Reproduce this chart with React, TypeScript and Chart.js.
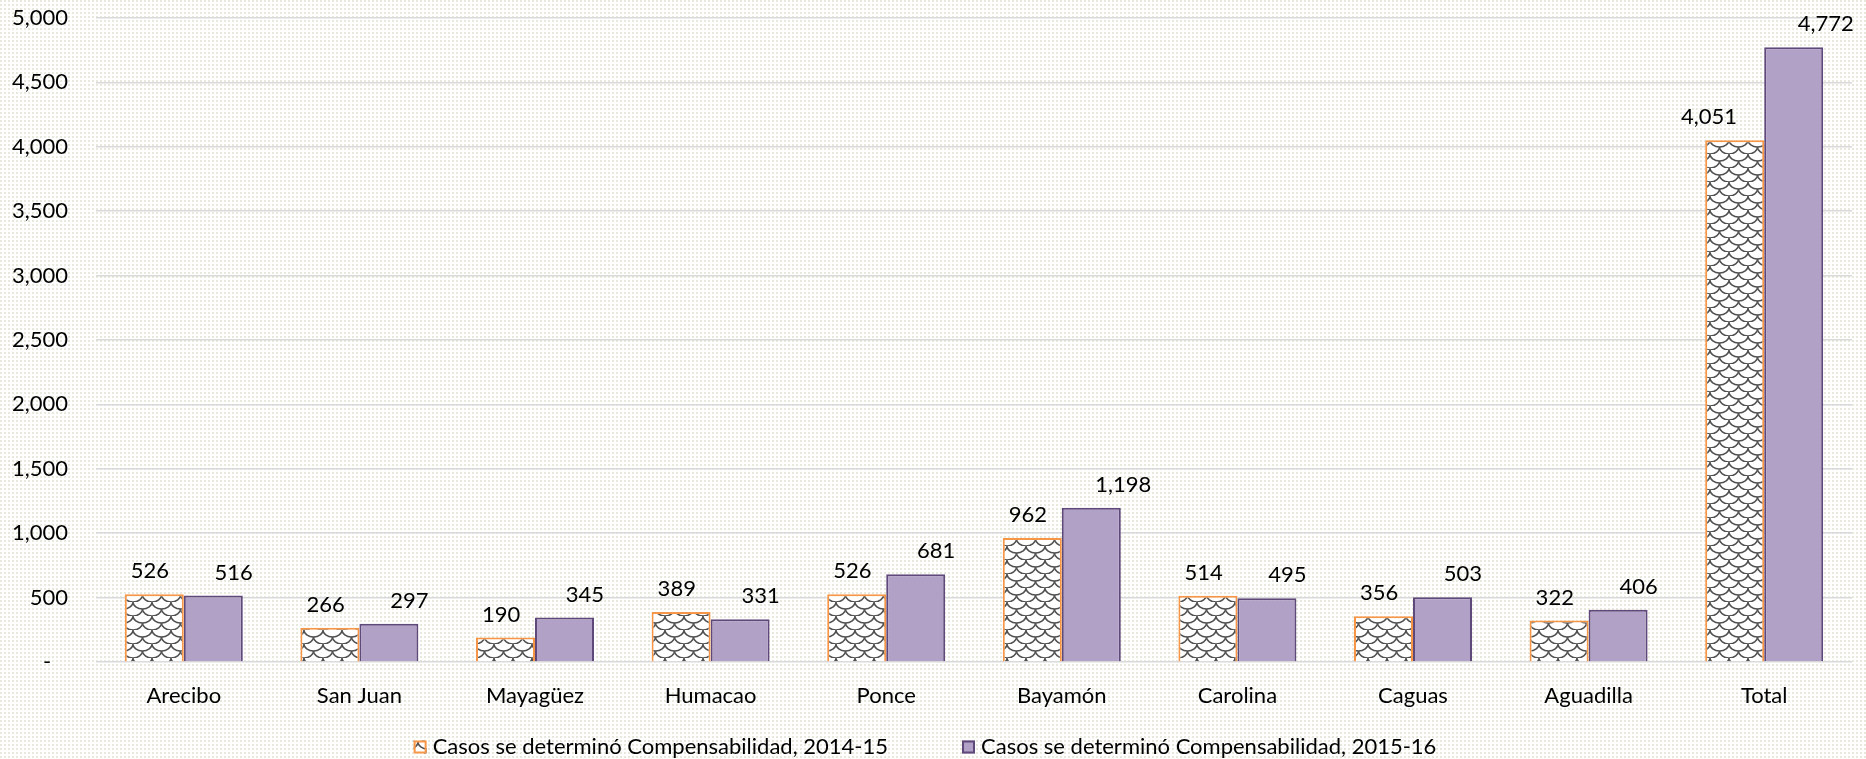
import React, { useEffect, useRef } from "react";
import { Chart, registerables } from "chart.js";

Chart.register(...registerables);

const categories = ["Arecibo", "San Juan", "Mayagüez", "Humacao", "Ponce", "Bayamón", "Carolina", "Caguas", "Aguadilla", "Total"];
const casos2014 = [526, 266, 190, 389, 526, 962, 514, 356, 322, 4051];
const casos2015 = [516, 297, 345, 331, 681, 1198, 495, 503, 406, 4772];
const seriesLabels = ["Casos se determinó Compensabilidad, 2014-15", "Casos se determinó Compensabilidad, 2015-16"];
const yTicks = [0, 500, 1000, 1500, 2000, 2500, 3000, 3500, 4000, 4500, 5000];

const FONT = "Lato, 'Noto Sans', sans-serif";
const FONT_SIZE = 22;
const ORANGE = "#f79646";
const PURPLE = "#b2a1c7";
const PURPLE_DARK = "#5f497a";

function makeDotPattern(ctx: CanvasRenderingContext2D) {
  const c = document.createElement("canvas");
  c.width = 4;
  c.height = 4;
  const g = c.getContext("2d")!;
  g.fillStyle = "#ffffff";
  g.fillRect(0, 0, 4, 4);
  g.fillStyle = "#e9e8dc";
  g.fillRect(0, 0, 2, 2);
  return ctx.createPattern(c, "repeat")!;
}

function makeScalePattern(ctx: CanvasRenderingContext2D) {
  const w = 19, h = 14;
  const c = document.createElement("canvas");
  c.width = w;
  c.height = h;
  const g = c.getContext("2d")!;
  g.fillStyle = "#ffffff";
  g.fillRect(0, 0, w, h);
  g.strokeStyle = "#505050";
  g.lineWidth = 1.5;
  const r = w / 2;
  g.beginPath();
  g.ellipse(w / 2, 0, r, h / 2, 0, 0, Math.PI);
  g.stroke();
  g.beginPath();
  g.ellipse(0, h / 2, r, h / 2, 0, 0, Math.PI);
  g.stroke();
  g.beginPath();
  g.ellipse(w, h / 2, r, h / 2, 0, 0, Math.PI);
  g.stroke();
  return ctx.createPattern(c, "repeat")!;
}

export default function App() {
  const ref = useRef<HTMLCanvasElement | null>(null);

  useEffect(() => {
    document.body.style.margin = "0";
    const canvas = ref.current!;
    const ctx = canvas.getContext("2d")!;
    const dots = makeDotPattern(ctx);
    const scales = makeScalePattern(ctx);

    const bgPlugin = {
      id: "bgPattern",
      beforeDraw(chart: any) {
        const c = chart.ctx;
        c.save();
        c.fillStyle = dots;
        c.fillRect(0, 0, chart.width, chart.height);
        c.restore();
      },
    };

    const labelPlugin = {
      id: "valueLabels",
      afterDatasetsDraw(chart: any) {
        const c = chart.ctx;
        c.save();
        c.font = `${FONT_SIZE}px ${FONT}`;
        c.fillStyle = "#000000";
        c.textAlign = "center";
        c.textBaseline = "middle";
        chart.data.datasets.forEach((ds: any, di: number) => {
          const meta = chart.getDatasetMeta(di);
          meta.data.forEach((el: any, i: number) => {
            const v = ds.data[i];
            const t = v.toLocaleString("en-US");
            const w = c.measureText(t).width;
            const extra = Math.max(0, w - 33);
            const dx = di === 0 ? 2 - 1.2 * extra : 17 + 0.65 * extra;
            c.fillText(t, el.x + dx, el.y - 23);
          });
        });
        c.restore();
      },
    };

    const legendPlugin = {
      id: "customLegend",
      afterDraw(chart: any) {
        const c = chart.ctx;
        c.save();
        c.font = `${FONT_SIZE}px ${FONT}`;
        c.textBaseline = "middle";
        c.textAlign = "left";
        const box = 13, gapBox = 6, gapItem = 74;
        const widths = seriesLabels.map((l) => c.measureText(l).width);
        const total = widths.reduce((a, b) => a + b, 0) + 2 * (box + gapBox) + gapItem;
        const cx = chart.width / 2 - 8;
        let x = cx - total / 2;
        const y = chart.height - 12;
        chart.data.datasets.forEach((ds: any, i: number) => {
          c.fillStyle = ds.backgroundColor;
          c.fillRect(x, y - box / 2, box, box);
          c.lineWidth = 2;
          c.strokeStyle = ds.borderColor;
          c.strokeRect(x + 1, y - box / 2 + 1, box - 2, box - 2);
          c.fillStyle = "#000000";
          c.fillText(seriesLabels[i], x + box + gapBox, y);
          x += box + gapBox + widths[i] + gapItem;
        });
        c.restore();
      },
    };

    const chart = new Chart(ctx, {
      type: "bar",
      data: {
        labels: categories,
        datasets: [
          {
            label: seriesLabels[0],
            data: casos2014,
            backgroundColor: scales as any,
            borderColor: ORANGE,
            borderWidth: 2,
            categoryPercentage: 0.672,
            barPercentage: 1.0,
          },
          {
            label: seriesLabels[1],
            data: casos2015,
            backgroundColor: PURPLE,
            borderColor: PURPLE_DARK,
            borderWidth: 2,
            categoryPercentage: 0.672,
            barPercentage: 1.0,
          },
        ],
      },
      options: {
        responsive: false,
        animation: false,
        layout: { padding: { left: 0, right: 14, top: 18, bottom: 0 } },
        plugins: {
          legend: { display: false },
          tooltip: { enabled: false },
        },
        scales: {
          x: {
            grid: { display: false },
            border: { display: false },
            ticks: {
              color: "#000000",
              font: { family: FONT, size: FONT_SIZE },
              padding: 13,
              maxRotation: 0,
              autoSkip: false,
            },
            afterFit(scale: any) {
              scale.height = 97;
            },
          },
          y: {
            min: 0,
            max: 5000,
            afterBuildTicks(scale: any) {
              scale.ticks = yTicks.map((v) => ({ value: v }));
            },
            grid: { color: "#d9d9d9", lineWidth: 1.6, drawTicks: false },
            border: { display: false },
            ticks: {
              color: "#000000",
              font: { family: FONT, size: FONT_SIZE },
              padding: 28,
              callback: (v: any) => (Number(v) === 0 ? "-   " : Number(v).toLocaleString("en-US")),
            },
            afterFit(scale: any) {
              scale.width = 96;
              scale.paddingTop = 0;
              scale.paddingBottom = 0;
            },
          },
        },
      },
      plugins: [bgPlugin, labelPlugin, legendPlugin],
    });

    return () => chart.destroy();
  }, []);

  return <canvas ref={ref} width={1866} height={759} style={{ display: "block" }} />;
}
